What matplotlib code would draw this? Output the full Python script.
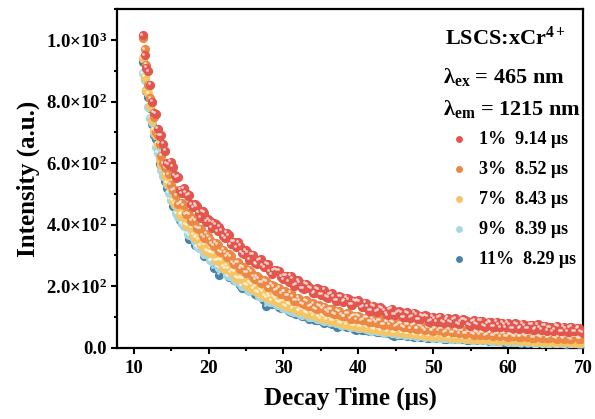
import numpy as np
import matplotlib
matplotlib.use("Agg")
import matplotlib.pyplot as plt
from matplotlib import transforms
from matplotlib.ticker import MultipleLocator, FuncFormatter

plt.rcParams['font.family'] = ['Liberation Serif', 'DejaVu Serif']
plt.rcParams['font.weight'] = 'bold'
plt.rcParams['mathtext.fontset'] = 'custom'
plt.rcParams['mathtext.rm'] = 'Liberation Serif:bold'
plt.rcParams['mathtext.it'] = 'Liberation Serif:bold'
plt.rcParams['mathtext.bf'] = 'Liberation Serif:bold'

# decay time (us): two interleaved sample grids, 0.5 us apart each
t_a = np.arange(11.2, 69.75, 0.5)
t_b = t_a + 0.25

# intensity (rows of 10 points), grid a
I_1 = [1015, 910, 854, 764, 712, 690, 640, 595, 588, 553,
       514, 519, 494, 466, 466, 439, 444, 410, 411, 406,
       378, 381, 356, 366, 345, 326, 332, 304, 308, 303,
       275, 284, 268, 273, 248, 252, 251, 230, 234, 214,
       226, 207, 211, 192, 205, 191, 179, 190, 174, 166,
       174, 166, 153, 166, 152, 157, 140, 150, 150, 133,
       133, 121, 133, 120, 126, 111, 124, 109, 113, 116,
       99, 110, 102, 109, 93, 101, 102, 87, 95, 99,
       84, 93, 84, 93, 80, 86, 91, 76, 85, 78,
       87, 71, 80, 83, 69, 75, 81, 67, 75, 64,
       77, 67, 73, 61, 74, 63, 67, 71, 56, 67,
       60, 69, 54, 63, 66, 53, 64, 54]
I_3 = [1008, 920, 810, 749, 692, 623, 587, 563, 512, 496,
       469, 463, 437, 412, 412, 387, 366, 370, 351, 332,
       335, 311, 308, 304, 278, 277, 257, 262, 244, 247,
       222, 226, 213, 216, 196, 200, 190, 176, 184, 170,
       168, 152, 155, 141, 151, 137, 129, 138, 128, 120,
       125, 111, 120, 108, 102, 110, 103, 93, 101, 91,
       97, 85, 88, 90, 77, 84, 74, 83, 73, 78,
       67, 74, 71, 62, 71, 61, 67, 57, 63, 57,
       62, 53, 59, 50, 55, 57, 46, 53, 47, 52,
       43, 50, 43, 50, 40, 45, 46, 37, 44, 37,
       44, 36, 41, 42, 33, 40, 35, 41, 32, 37,
       32, 38, 32, 36, 29, 35, 36, 29]
I_7 = [940, 838, 786, 708, 663, 595, 562, 533, 479, 469,
       433, 426, 397, 391, 357, 352, 342, 316, 308, 306,
       282, 283, 257, 258, 251, 229, 227, 224, 201, 204,
       198, 181, 183, 164, 167, 165, 149, 151, 137, 143,
       129, 134, 121, 125, 110, 114, 113, 100, 105, 92,
       99, 88, 92, 80, 85, 84, 73, 76, 69, 74,
       65, 70, 60, 64, 64, 55, 60, 51, 56, 50,
       54, 47, 52, 44, 48, 47, 39, 45, 39, 42,
       37, 41, 34, 40, 33, 37, 31, 36, 35, 29,
       35, 29, 33, 27, 31, 31, 25, 29, 25, 29,
       24, 28, 22, 26, 26, 20, 26, 21, 24, 20,
       25, 20, 23, 18, 24, 19, 22, 17]
I_9 = [892, 836, 746, 699, 633, 576, 557, 503, 479, 437,
       428, 396, 371, 368, 348, 324, 323, 307, 285, 288,
       265, 265, 252, 233, 237, 217, 210, 211, 191, 191,
       184, 168, 170, 166, 148, 151, 140, 144, 130, 123,
       129, 117, 109, 115, 109, 99, 106, 94, 90, 95,
       83, 87, 86, 74, 78, 70, 75, 66, 63, 67,
       65, 56, 60, 54, 57, 50, 53, 52, 44, 48,
       42, 46, 45, 38, 42, 37, 41, 34, 38, 33,
       37, 31, 35, 34, 29, 34, 28, 31, 26, 30,
       25, 29, 28, 23, 27, 22, 27, 21, 24, 19,
       23, 19, 23, 18, 22, 16, 21, 21, 17, 20,
       16, 20, 16, 20, 15, 19, 14, 18]
I_11 = [928, 834, 780, 690, 645, 602, 543, 509, 462, 457,
        415, 411, 389, 358, 335, 342, 325, 301, 301, 259,
        279, 257, 255, 230, 236, 228, 204, 207, 187, 190,
        176, 178, 159, 135, 156, 141, 145, 128, 135, 120,
        125, 110, 115, 103, 108, 102, 90, 98, 87, 90,
        79, 84, 66, 80, 70, 74, 66, 59, 66, 57,
        62, 53, 58, 51, 55, 47, 50, 39, 48, 42,
        40, 44, 38, 42, 35, 39, 33, 37, 32, 36,
        35, 29, 33, 28, 33, 27, 30, 25, 29, 25,
        28, 24, 28, 22, 26, 21, 24, 19, 23, 19,
        22, 17, 21, 17, 22, 16, 20, 15, 20, 15,
        19, 15, 18, 13, 18, 14, 17, 13]

# grid b
J_1 = [950, 898, 799, 760, 688, 662, 600, 605, 560, 556,
       502, 504, 497, 456, 460, 423, 438, 417, 390, 402,
       393, 362, 374, 336, 344, 343, 308, 317, 286, 303,
       272, 287, 261, 272, 239, 254, 251, 222, 234, 234,
       202, 219, 194, 208, 197, 177, 193, 173, 189, 162,
       177, 153, 168, 149, 163, 139, 153, 155, 132, 146,
       121, 137, 117, 131, 121, 106, 126, 107, 119, 99,
       116, 97, 113, 92, 104, 106, 85, 101, 85, 101,
       82, 97, 82, 96, 76, 92, 88, 72, 90, 74,
       88, 69, 85, 69, 85, 66, 77, 82, 63, 79,
       62, 78, 62, 75, 58, 76, 58, 71, 67, 53,
       71, 54, 69, 52, 68, 53, 65, 49]
J_3 = [970, 854, 797, 702, 662, 599, 581, 530, 514, 466,
       472, 434, 433, 421, 390, 386, 358, 363, 339, 342,
       313, 319, 296, 297, 271, 278, 263, 244, 253, 230,
       233, 212, 220, 197, 204, 186, 195, 183, 169, 179,
       152, 162, 145, 154, 135, 144, 125, 134, 133, 116,
       125, 109, 119, 103, 112, 95, 104, 104, 89, 98,
       84, 95, 82, 90, 75, 85, 84, 70, 79, 68,
       77, 64, 74, 62, 70, 57, 67, 55, 65, 61,
       51, 61, 50, 58, 47, 57, 47, 54, 43, 51,
       51, 41, 51, 39, 47, 38, 47, 36, 44, 37,
       35, 44, 35, 43, 32, 41, 32, 41, 32, 39,
       30, 39, 30, 37, 28, 36, 29, 37]
J_7 = [880, 827, 739, 690, 614, 589, 537, 518, 468, 458,
       437, 402, 400, 367, 362, 333, 336, 312, 310, 285,
       287, 263, 268, 245, 247, 224, 224, 204, 211, 191,
       182, 188, 169, 174, 155, 161, 147, 152, 135, 141,
       135, 120, 126, 113, 120, 106, 111, 96, 103, 98,
       88, 94, 83, 87, 75, 81, 71, 78, 68, 73,
       71, 62, 67, 57, 62, 53, 59, 51, 57, 48,
       47, 52, 44, 49, 41, 46, 39, 45, 37, 42,
       41, 34, 39, 33, 38, 31, 35, 30, 35, 30,
       28, 33, 28, 32, 25, 30, 24, 30, 24, 29,
       27, 22, 27, 22, 26, 20, 25, 20, 25, 19,
       24, 18, 24, 19, 23, 17, 22, 18]
J_9 = [871, 781, 732, 653, 620, 559, 534, 481, 465, 426,
       404, 398, 366, 360, 330, 329, 305, 307, 283, 282,
       260, 261, 238, 240, 222, 223, 202, 203, 185, 189,
       182, 164, 168, 153, 158, 142, 146, 129, 134, 121,
       117, 122, 108, 113, 100, 105, 94, 100, 88, 92,
       89, 80, 84, 73, 77, 68, 72, 64, 69, 60,
       58, 63, 54, 58, 49, 55, 47, 52, 44, 48,
       47, 40, 44, 38, 42, 35, 40, 33, 37, 33,
       32, 36, 29, 34, 29, 33, 27, 31, 25, 29,
       29, 24, 28, 23, 27, 21, 25, 20, 24, 19,
       19, 22, 18, 23, 17, 21, 16, 21, 16, 20,
       16, 20, 14, 19, 15, 18, 14, 18]
J_11 = [873, 815, 727, 677, 596, 579, 519, 501, 458, 442,
        406, 400, 354, 363, 336, 333, 297, 308, 285, 281,
        237, 261, 241, 242, 219, 220, 194, 204, 187, 190,
        170, 173, 155, 161, 141, 147, 133, 131, 131, 117,
        113, 118, 104, 109, 94, 102, 90, 95, 81, 87,
        78, 82, 72, 77, 67, 71, 60, 67, 59, 62,
        55, 59, 50, 54, 47, 51, 43, 49, 41, 45,
        39, 42, 36, 41, 35, 38, 32, 36, 31, 35,
        30, 33, 27, 32, 27, 30, 25, 29, 25, 28,
        24, 27, 23, 26, 21, 24, 20, 23, 19, 22,
        18, 21, 17, 21, 16, 20, 16, 20, 15, 19,
        15, 18, 14, 18, 14, 17, 13, 17]

labels = ['1%  9.14 \u03bcs', '3%  8.52 \u03bcs', '7%  8.43 \u03bcs',
          '9%  8.39 \u03bcs', '11%  8.29 \u03bcs']
series_a = [I_1, I_3, I_7, I_9, I_11]
series_b = [J_1, J_3, J_7, J_9, J_11]
colors = ['#E2564E', '#EB8846', '#F6C462', '#A8D7DE', '#4884AA']

fig = plt.figure(figsize=(5.95, 4.19), dpi=100)
ax = fig.add_axes([0.197, 0.170, 0.783, 0.808])

hl = transforms.offset_copy(ax.transData, fig=fig, x=-1.1, y=1.1, units='points')
handles = []
# draw the 11% first so the 1% ends up on top
for ya, yb, c, lab in reversed(list(zip(series_a, series_b, colors, labels))):
    x = np.concatenate([t_a, t_b])
    y = np.concatenate([ya, yb])
    order = np.argsort(x)
    x, y = x[order], y[order]
    h = ax.scatter(x, y, s=44, color=c, linewidths=0, zorder=3, label=lab)
    ax.scatter(x, y, s=4, color='white', alpha=0.7, linewidths=0,
               transform=hl, zorder=3)
    handles.append(h)
handles = handles[::-1]

ax.set_xlim(7.8, 70)
ax.set_ylim(0, 1100)
ax.xaxis.set_major_locator(MultipleLocator(10))
ax.xaxis.set_minor_locator(MultipleLocator(5))
ax.yaxis.set_major_locator(MultipleLocator(200))
ax.yaxis.set_minor_locator(MultipleLocator(100))


def sci(v, pos):
    if v <= 0:
        return '0.0'
    e = int(np.floor(np.log10(v)))
    return '%.1f\u00d710$^{%d}$' % (v / 10 ** e, e)


ax.yaxis.set_major_formatter(FuncFormatter(sci))
ax.tick_params(which='both', direction='out', width=1.5, labelsize=13.5, pad=3)
ax.tick_params(axis='x', pad=4.5)
ax.tick_params(which='major', length=4.5)
ax.tick_params(which='minor', length=2.5)
for sp in ax.spines.values():
    sp.set_linewidth(1.6)

ax.set_xlabel('Decay Time (\u03bcs)', fontsize=18, fontweight='bold', labelpad=7)
ax.set_ylabel('Intensity (a.u.)', fontsize=18, fontweight='bold', labelpad=4)

ax.text(0.704, 0.894, 'LSCS:xCr$^{4+}$', transform=ax.transAxes, fontsize=16,
        va='baseline')
ax.text(0.700, 0.782, '\u03bb$_{ex}$ = 465 nm', transform=ax.transAxes,
        fontsize=16, va='baseline')
ax.text(0.700, 0.687, '\u03bb$_{em}$ = 1215 nm', transform=ax.transAxes,
        fontsize=16, va='baseline')

ax.legend(handles, labels, loc='upper left', bbox_to_anchor=(0.706, 0.652),
          frameon=False, fontsize=13, handlelength=1.0, handletextpad=0.6,
          labelspacing=0.72, borderaxespad=0, borderpad=0.2, markerscale=0.75)

fig.savefig('out.png', dpi=100)
